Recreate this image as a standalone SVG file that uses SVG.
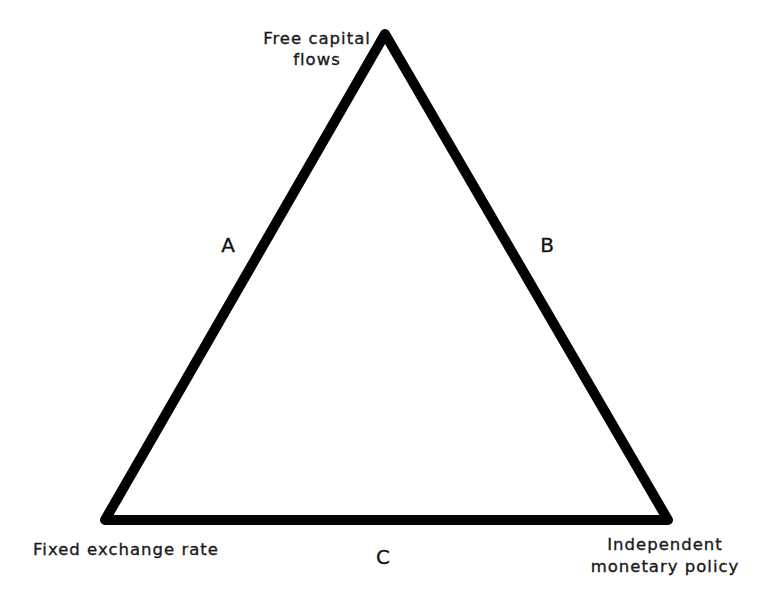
<svg xmlns="http://www.w3.org/2000/svg" width="761" height="600" viewBox="0 0 761 600">
<style>
.lbl{font-family:"DejaVu Sans","Noto Sans",sans-serif;font-size:16.5px;letter-spacing:1px;fill:#1a1a1a;stroke:#1a1a1a;stroke-width:0.35px;}
.big{font-family:"DejaVu Sans","Noto Sans",sans-serif;font-size:20px;fill:#111;stroke:#111;stroke-width:0.3px;}
</style>
<rect width="761" height="600" fill="#fff"/>
<g id="connectors">
<path d="M385,34 L105,520 L668,520 Z" fill="none" stroke="#000" stroke-width="10" stroke-linejoin="round"/>
</g>
<g id="node-top">
<text class="lbl" x="317" y="44" text-anchor="middle">Free capital</text>
<text class="lbl" x="317" y="65" text-anchor="middle">flows</text>
</g>
<g id="node-left">
<text class="lbl" x="126" y="555" text-anchor="middle">Fixed exchange rate</text>
</g>
<g id="node-right">
<text class="lbl" x="665" y="550" text-anchor="middle">Independent</text>
<text class="lbl" x="665" y="572" text-anchor="middle">monetary policy</text>
</g>
<g id="label-A"><text class="big" x="228" y="252" text-anchor="middle">A</text></g>
<g id="label-B"><text class="big" x="547" y="252" text-anchor="middle">B</text></g>
<g id="label-C"><text class="big" x="383" y="564" text-anchor="middle">C</text></g>
</svg>
